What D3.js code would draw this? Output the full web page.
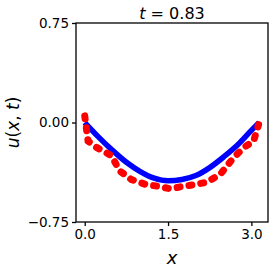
<!DOCTYPE html>
<html>
<head>
<meta charset="utf-8">
<script src="https://cdn.jsdelivr.net/npm/d3@7"></script>
<style>
  html, body { margin: 0; padding: 0; background: #fff; }
  svg { display: block; font-family: "DejaVu Sans", sans-serif; }
</style>
</head>
<body>
<div id="chart"></div>
<script>
// exact solution (blue) and model prediction (red dashes) at t = 0.83
const exactX = [0, 0.25, 0.5, 0.75, 1.0, 1.25, 1.5, 1.75, 2.0, 2.25, 2.5, 2.75, 3.0, 3.14];
const exactU = [0, -0.11, -0.21, -0.30, -0.37, -0.42, -0.44, -0.43, -0.40, -0.34, -0.26, -0.17, -0.06, 0.0];

const predX = [0, 0.06, 0.18, 0.33, 0.48, 0.63, 0.84, 1.12, 1.32, 1.54, 1.78, 1.96, 2.20, 2.44, 2.68, 2.86, 3.04, 3.13];
const predU = [0.05, -0.14, -0.18, -0.215, -0.25, -0.365, -0.43, -0.47, -0.48, -0.50, -0.48, -0.47, -0.45, -0.39, -0.265, -0.19, -0.14, -0.015];

const xTicks = [0.0, 1.5, 3.0];
const yTicks = [-0.75, 0.0, 0.75];
const tValue = "0.83";

const width = 273, height = 273;
const m = { top: 23, right: 5, bottom: 51, left: 76 };
const iw = width - m.left - m.right;
const ih = height - m.top - m.bottom;

const svg = d3.select("#chart").append("svg")
  .attr("width", width).attr("height", height);
const g = svg.append("g").attr("transform", `translate(${m.left},${m.top})`);

const x = d3.scaleLinear().domain([-0.157, 3.299]).range([0, iw]);
const y = d3.scaleLinear().domain([-0.75, 0.75]).range([ih, 0]);

const exact = exactX.map((v, i) => [v, exactU[i]]);
const pred = predX.map((v, i) => [v, predU[i]]);

g.append("path").datum(exact)
  .attr("fill", "none").attr("stroke", "#0000ff").attr("stroke-width", 5.5)
  .attr("d", d3.line().x((d) => x(d[0])).y((d) => y(d[1])).curve(d3.curveMonotoneX));

g.append("path").datum(pred)
  .attr("fill", "none").attr("stroke", "#ff0000").attr("stroke-width", 7)
  .attr("stroke-dasharray", "3,9").attr("stroke-linecap", "round")
  .attr("d", d3.line().x((d) => x(d[0])).y((d) => y(d[1])));

// frame
g.append("rect").attr("width", iw).attr("height", ih)
  .attr("fill", "none").attr("stroke", "#000").attr("stroke-width", 1.3);

const xa = g.append("g").attr("transform", `translate(0,${ih})`)
  .call(d3.axisBottom(x).tickValues(xTicks).tickFormat(d3.format(".1f")).tickSize(4).tickPadding(3));
const ya = g.append("g")
  .call(d3.axisLeft(y).tickValues(yTicks).tickFormat((d) => d3.format(".2f")(d).replace("-", "\u2212")).tickSize(4).tickPadding(3));
[xa, ya].forEach((a) => {
  a.select(".domain").remove();
  a.selectAll("line").attr("stroke", "#000").attr("stroke-width", 1.3);
  a.selectAll("text").attr("fill", "#000").attr("font-size", 13.5).attr("font-family", "DejaVu Sans");
});

svg.append("text").attr("x", m.left + iw / 2).attr("y", 19)
  .attr("text-anchor", "middle").attr("font-size", 16)
  .html(`<tspan font-style="italic">t</tspan> = ${tValue}`);

svg.append("text").attr("x", m.left + iw / 2).attr("y", 264)
  .attr("text-anchor", "middle").attr("font-size", 18).attr("font-style", "italic")
  .text("x");

svg.append("text").attr("transform", `translate(19,${m.top + ih / 2}) rotate(-90)`)
  .attr("text-anchor", "middle").attr("font-size", 17)
  .html(`<tspan font-style="italic">u</tspan>(<tspan font-style="italic">x</tspan>, <tspan font-style="italic">t</tspan>)`);
</script>
</body>
</html>
